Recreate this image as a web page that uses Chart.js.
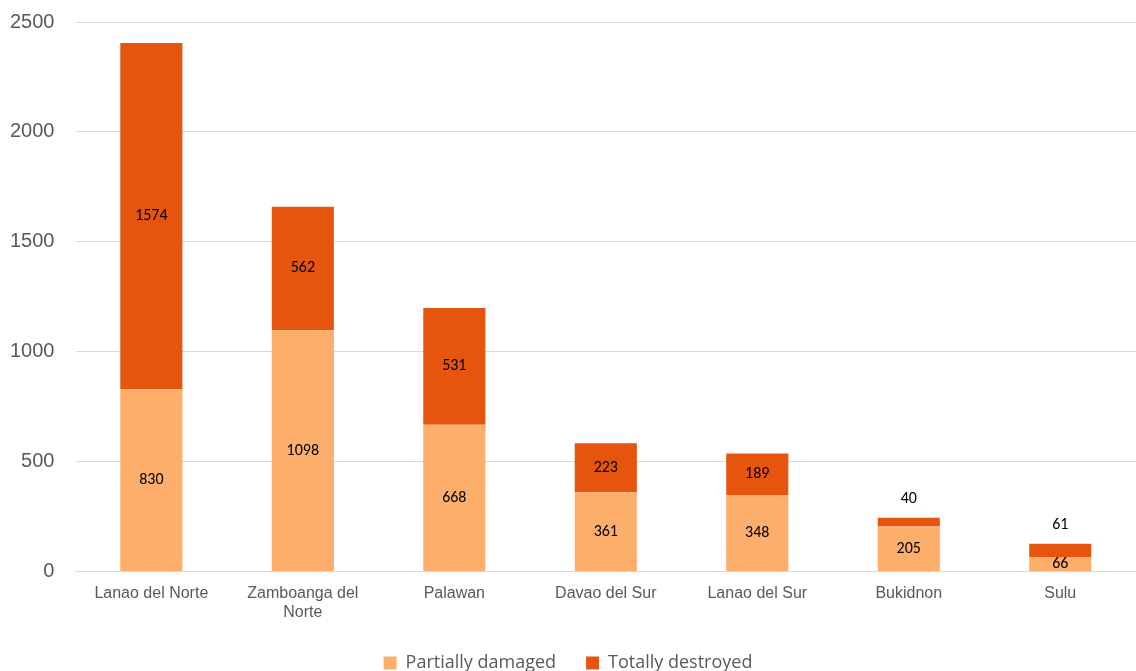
<!DOCTYPE html>
<html>
<head>
<meta charset="utf-8">
<script src="https://cdn.jsdelivr.net/npm/chart.js@4.4.1/dist/chart.umd.min.js"></script>
<style>
  html, body { margin: 0; padding: 0; background: #fff; overflow: hidden; }
  #wrap { position: relative; width: 1136px; height: 682px; }
</style>
</head>
<body>
<div id="wrap"><canvas id="c"></canvas></div>
<script>
var provinces = ['Lanao del Norte', ['Zamboanga del', 'Norte'], 'Palawan', 'Davao del Sur', 'Lanao del Sur', 'Bukidnon', 'Sulu'];
var partiallyDamaged = [830, 1098, 668, 361, 348, 205, 66];
var totallyDestroyed = [1574, 562, 531, 223, 189, 40, 61];
var yTicks = [0, 500, 1000, 1500, 2000, 2500];

var lightOrange = '#FDAE6B';
var darkOrange = '#E6550D';

// value labels centred in each segment; thin top segments get their label above the bar
var segLabels = {
  id: 'segLabels',
  afterDatasetsDraw: function(chart) {
    var ctx = chart.ctx;
    ctx.save();
    ctx.font = '16px Carlito, "Open Sans", sans-serif';
    ctx.fillStyle = '#000';
    ctx.textAlign = 'center';
    ctx.textBaseline = 'middle';
    chart.data.datasets.forEach(function(ds, i) {
      var meta = chart.getDatasetMeta(i);
      meta.data.forEach(function(bar, j) {
        var h = bar.base - bar.y;
        var y = (bar.y + bar.base) / 2;
        if (i === 1 && h < 22) y = bar.y - 19;
        ctx.fillText(String(ds.data[j]), bar.x, y);
      });
    });
    ctx.restore();
  }
};

new Chart(document.getElementById('c'), {
  type: 'bar',
  data: {
    labels: provinces,
    datasets: [
      { label: 'Partially damaged', data: partiallyDamaged, backgroundColor: lightOrange, stack: 's', categoryPercentage: 1, barPercentage: 0.41 },
      { label: 'Totally destroyed', data: totallyDestroyed, backgroundColor: darkOrange, stack: 's', categoryPercentage: 1, barPercentage: 0.41 }
    ]
  },
  options: {
    responsive: true, maintainAspectRatio: false, animation: false,
    layout: { padding: { top: 0, right: 0, left: 0, bottom: 0 } },
    plugins: {
      legend: {
        position: 'bottom',
        labels: { boxWidth: 13, boxHeight: 13, color: '#595959', font: { size: 18, family: '"Open Sans", sans-serif' }, padding: 30 }
      },
      tooltip: { enabled: false }
    },
    scales: {
      x: {
        stacked: true,
        grid: { display: false },
        border: { color: '#d9d9d9' },
        ticks: { color: '#595959', font: { size: 16, family: 'Arial, "Liberation Sans", sans-serif' }, maxRotation: 0, autoSkip: false, padding: 4 },
        afterFit: function(axis) { axis.height -= 2; }
      },
      y: {
        stacked: true,
        min: 0, max: 2500,
        afterBuildTicks: function(axis) { axis.ticks = yTicks.map(function(v) { return { value: v }; }); },
        grid: { color: '#d9d9d9', drawTicks: false },
        border: { display: false },
        ticks: { color: '#595959', font: { size: 20, family: 'Arial, "Liberation Sans", sans-serif' }, padding: 10, callback: function(v) { return v + '  '; } }
      }
    }
  },
  plugins: [segLabels]
});
</script>
</body>
</html>
